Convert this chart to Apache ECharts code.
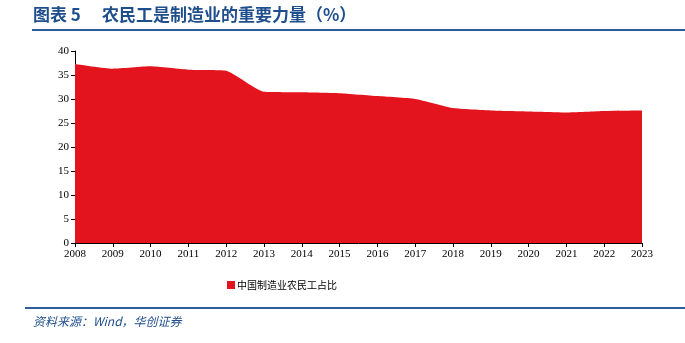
<!DOCTYPE html>
<html><head><meta charset="utf-8">
<script src="https://cdn.jsdelivr.net/npm/echarts@6/dist/echarts.min.js"></script>
<style>html,body{margin:0;padding:0;background:#fff;}#c{width:685px;height:343px;}</style>
</head><body><div id="c"></div>
<script>
const years = ['2008','2009','2010','2011','2012','2013','2014','2015','2016','2017','2018','2019','2020','2021','2022','2023'];
const shareValues = [37.3, 36.3, 36.8, 36.1, 35.9, 31.5, 31.4, 31.2, 30.6, 30.0, 28.1, 27.6, 27.4, 27.2, 27.5, 27.6];
const yTicks = [0, 5, 10, 15, 20, 25, 30, 35, 40];
const seriesName = '中国制造业农民工占比';
const titleNum = '图表 5';
const titleText = '农民工是制造业的重要力量（%）';
const sourceText = '资料来源：Wind，华创证券';

const blue = '#1f4e8c';
const chart = echarts.init(document.getElementById('c'));
chart.setOption({
  animation: false,
  graphic: [
    {type:'text', left:33, top:6, style:{text:titleNum, font:'bold 17px "Noto Sans CJK SC"', fill:blue}},
    {type:'text', left:102, top:6, style:{text:titleText, font:'bold 17px "Noto Sans CJK SC"', fill:blue}},
    {type:'rect', shape:{x:32, y:29, width:653, height:2}, style:{fill:'#2f5d9a'}},
    {type:'rect', shape:{x:25, y:307, width:660, height:2}, style:{fill:'#2f5d9a'}},
    {type:'text', left:33, top:315, style:{text:sourceText, font:'italic 12px "Noto Sans CJK SC"', fill:blue}}
  ],
  legend: {
    top: 275, left: 222,
    itemWidth: 8, itemHeight: 8, itemGap: 4,
    icon: 'rect',
    textStyle: {fontSize: 10, color:'#000', fontFamily:'"Noto Sans CJK SC"', padding:[0,0,0,-3]},
    data: [seriesName]
  },
  grid: {left: 75, right: 43, top: 51, bottom: 100},
  xAxis: {
    type: 'category', data: years, boundaryGap: false,
    axisLine: {lineStyle: {color: '#000', width: 1}},
    axisTick: {show: true, alignWithLabel: true, length: 4, lineStyle:{color:'#000'}},
    axisLabel: {color:'#000', fontFamily:'"Liberation Serif"', fontSize: 11, margin: 6, interval: 0}
  },
  yAxis: {
    type: 'value', min: 0, max: 40, interval: 5,
    splitLine: {show: false},
    axisLine: {show: true, lineStyle: {color: '#000', width: 1}},
    axisTick: {show: true, length: 4, lineStyle:{color:'#000'}},
    axisLabel: {color:'#000', fontFamily:'"Liberation Serif"', fontSize: 11, margin: 6,
      formatter: v => yTicks.includes(v) ? String(v) : ''}
  },
  series: [{
    name: seriesName, type: 'line', data: shareValues,
    smooth: 0.15, symbol: 'none',
    lineStyle: {width: 0, color: '#e3141d'},
    itemStyle: {color: '#e3141d'},
    areaStyle: {color: '#e3141d', opacity: 1}
  }]
});
</script></body></html>
